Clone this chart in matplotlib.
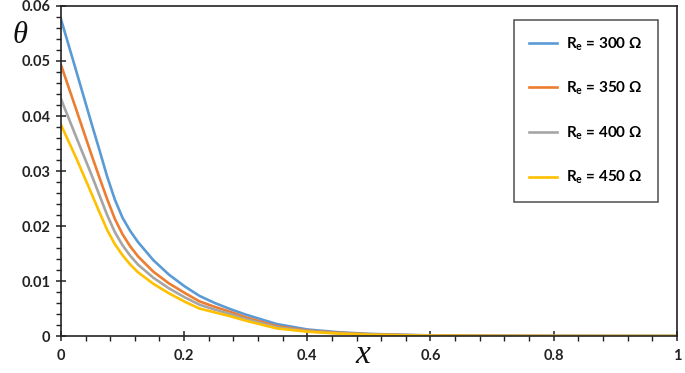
import matplotlib
matplotlib.use("Agg")
import matplotlib.pyplot as plt
from matplotlib.ticker import MultipleLocator

# data (x along the plate, theta per Re)
x = [0, 0.025, 0.05, 0.0625, 0.075, 0.0875, 0.1, 0.1125, 0.125, 0.15, 0.175, 0.2, 0.225,
     0.25, 0.275, 0.3, 0.35, 0.4, 0.45, 0.5, 0.55, 0.6, 0.7, 0.8, 0.9, 1.0]
theta_300 = [0.0576, 0.0481, 0.0385, 0.0338, 0.0290, 0.0248, 0.0215, 0.0191, 0.0171, 0.0138,
             0.0112, 0.0091, 0.0073, 0.0060, 0.0049, 0.0039, 0.0022, 0.0012, 0.0007, 0.0004,
             0.00025, 0.00012, 0.00004, 0.00001, 0.0, 0.0]
theta_350 = [0.0493, 0.0411, 0.0328, 0.0288, 0.0249, 0.0213, 0.0185, 0.0163, 0.0145, 0.0117,
             0.0096, 0.0079, 0.0063, 0.0053, 0.0044, 0.0034, 0.0018, 0.0010, 0.0006, 0.00035,
             0.0002, 0.0001, 0.00003, 0.00001, 0.0, 0.0]
theta_400 = [0.0431, 0.0361, 0.0292, 0.0256, 0.0220, 0.0189, 0.0165, 0.0146, 0.0130, 0.0106,
             0.0087, 0.0071, 0.0057, 0.0048, 0.0040, 0.0031, 0.0016, 0.0009, 0.0005, 0.0003,
             0.00018, 0.00009, 0.00003, 0.00001, 0.0, 0.0]
theta_450 = [0.0384, 0.0323, 0.0258, 0.0225, 0.0193, 0.0167, 0.0147, 0.0130, 0.0116, 0.0095,
             0.0078, 0.0063, 0.0050, 0.0043, 0.0036, 0.0028, 0.0014, 0.0008, 0.00045, 0.00025,
             0.00015, 0.00007, 0.00002, 0.0, 0.0, 0.0]

labels = ["300", "350", "400", "450"]
series = [theta_300, theta_350, theta_400, theta_450]
colors = ["#5B9BD5", "#ED7D31", "#A5A5A5", "#FFC000"]

plt.rcParams["font.family"] = "Lato"
plt.rcParams["font.weight"] = "bold"
plt.rcParams["mathtext.fontset"] = "custom"
plt.rcParams["mathtext.rm"] = "Lato:bold"
plt.rcParams["mathtext.it"] = "Lato:bold"

fig = plt.figure(figsize=(6.85, 3.73), dpi=100)
ax = fig.add_axes([0.089, 0.099, 0.899, 0.885])

for lab, y, c in zip(labels, series, colors):
    ax.plot(x, y, color=c, lw=1.9, solid_joinstyle="round",
            label=r"R$_{\mathrm{e}}$ = " + lab + " Ω")


def fmt_x(v, p):
    if abs(v) < 1e-9:
        return "0"
    if abs(v - 1) < 1e-9:
        return "1"
    return f"{v:.1f}"


def fmt_y(v, p):
    return "0" if abs(v) < 1e-12 else f"{v:.2f}"


ax.set_xlim(0, 1)
ax.set_ylim(0, 0.06)
ax.xaxis.set_major_locator(MultipleLocator(0.2))
ax.xaxis.set_minor_locator(MultipleLocator(0.04))
ax.yaxis.set_major_locator(MultipleLocator(0.01))
ax.yaxis.set_minor_locator(MultipleLocator(0.002))
ax.xaxis.set_major_formatter(fmt_x)
ax.yaxis.set_major_formatter(fmt_y)

ax.tick_params(which="major", direction="inout", length=7, width=1.1, labelsize=10.5,
               colors="#222222", pad=6)
ax.tick_params(which="minor", direction="out", length=3.5, width=1.0, colors="#222222")
ax.tick_params(axis="y", which="major", pad=4)
for lbl in ax.get_xticklabels() + ax.get_yticklabels():
    lbl.set_fontweight("bold")
for s in ax.spines.values():
    s.set_linewidth(1.2)
    s.set_color("#222222")

# axis symbols, thin italic serif as in the reference
fig.text(0.018, 0.905, "θ", fontsize=22, family="Liberation Serif", style="italic",
         fontweight="normal", ha="left", va="center", color="#111111")
fig.text(0.529, 0.048, "x", fontsize=24, family="Liberation Serif", style="italic",
         fontweight="normal", ha="center", va="center", color="#111111")

leg = ax.legend(loc="upper right", bbox_to_anchor=(0.969, 0.958), fontsize=11,
                frameon=True, fancybox=False, edgecolor="#222222", labelspacing=1.78,
                handlelength=1.8, handletextpad=0.6, borderpad=1.0,
                borderaxespad=0)
leg.get_frame().set_linewidth(1.1)
for t in leg.get_texts():
    t.set_fontweight("bold")

fig.savefig("out.png", dpi=100)
